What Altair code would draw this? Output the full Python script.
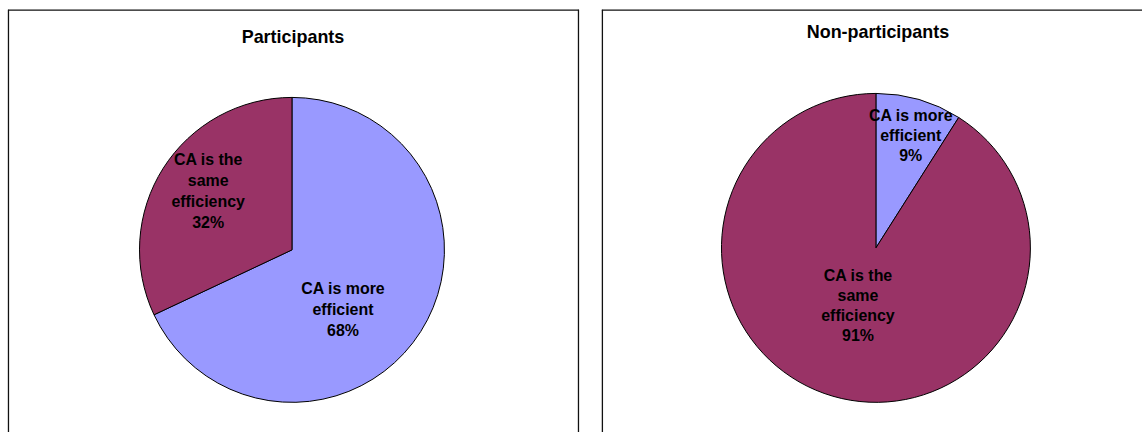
import altair as alt
import pandas as pd

categories = ["CA is more efficient", "CA is the same efficiency"]
label_lines = ["CA is more\nefficient", "CA is the\nsame\nefficiency"]
participants = [68, 32]
non_participants = [9, 91]
titles = ["Participants", "Non-participants"]
colors = ["#9999FF", "#993366"]

FONT = "Liberation Sans"


def panel(values, title, w, h, cx, cy, r, tx, ty, label_cfg, line_h, right_border):
    df = pd.DataFrame({"category": categories, "label": label_lines,
                       "value": values, "order": [0, 1]})
    base = alt.Chart(df)
    color = alt.Color("category:N",
                      scale=alt.Scale(domain=categories, range=colors),
                      legend=None)
    arcs = base.mark_arc(radius=r, stroke="black", strokeWidth=1).encode(
        theta=alt.Theta("value:Q", stack=True, scale=alt.Scale(domain=[0, 100])),
        order=alt.Order("order:Q"),
        color=color,
        x=alt.value(cx), y=alt.value(cy),
    )
    layers = [arcs]
    for cat, lines, (rad, dx, dy) in zip(categories, label_lines, label_cfg):
        n_lines = lines.count("\n") + 2
        t = base.transform_window(
            cum="sum(value)", sort=[alt.SortField("order")]
        ).transform_calculate(
            mid="datum.cum - datum.value / 2",
            txt="datum.label + '\\n' + datum.value + '%'",
        ).transform_filter(
            alt.datum.category == cat
        ).mark_text(
            radius=rad, dx=dx, dy=dy - (n_lines - 1) * line_h / 2,
            lineBreak="\n", font=FONT, fontSize=16,
            fontWeight="bold", lineHeight=line_h, align="center",
            baseline="middle", color="black",
        ).encode(
            theta=alt.Theta("mid:Q", stack=None, scale=alt.Scale(domain=[0, 100])),
            text="txt:N",
            x=alt.value(cx), y=alt.value(cy),
        )
        layers.append(t)
    tdf = pd.DataFrame({"title": [title]})
    title_t = alt.Chart(tdf).mark_text(
        font=FONT, fontSize=18, fontWeight="bold", align="center",
        baseline="middle", color="black",
    ).encode(text="title:N", x=alt.value(tx), y=alt.value(ty))
    layers.append(title_t)
    border = alt.Chart(tdf)
    bstyle = dict(color="#111111", strokeWidth=1.3)
    top = border.mark_rule(**bstyle).encode(
        x=alt.value(0), x2=alt.value(w), y=alt.value(0.5))
    left = border.mark_rule(**bstyle).encode(
        x=alt.value(0.5), y=alt.value(0), y2=alt.value(h))
    layers += [top, left]
    if right_border:
        right = border.mark_rule(**bstyle).encode(
            x=alt.value(w - 0.5), y=alt.value(0), y2=alt.value(h))
        layers.append(right)
    return alt.layer(*layers).properties(width=w, height=h)


H = 424
left_panel = panel(participants, titles[0], 573, H, 285, 241, 153, 286, 28,
                   [(76, -13, 20), (102, 2, -4)], 21, True)
right_panel = panel(non_participants, titles[1], 542, H, 275, 239, 155, 277, 23,
                    [(118, 2, 1), (61, -1, 0)], 20, False)

chart = alt.hconcat(left_panel, right_panel, spacing=21).properties(
    padding={"left": 7, "top": 8, "right": 0, "bottom": 0},
    background="white",
).configure_view(stroke=None)

chart.save("out.html", embed_options={"renderer": "svg", "actions": False})
